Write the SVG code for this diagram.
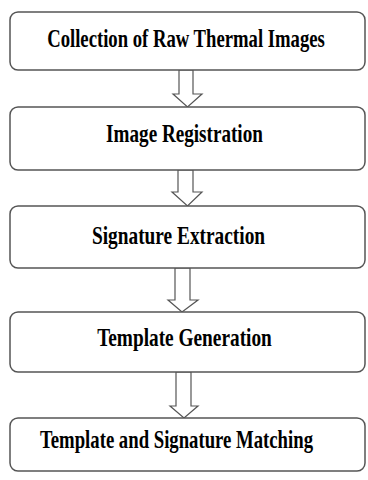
<svg xmlns="http://www.w3.org/2000/svg" width="368" height="480" viewBox="0 0 368 480">
<style>
.box{fill:#fff;stroke:#555;stroke-width:1.5}
.lbl{font-family:"Liberation Serif","Times New Roman",serif;font-weight:bold;font-size:26px;fill:#000;text-anchor:middle}
.arr{fill:#fff;stroke:#555;stroke-width:1.2;stroke-linejoin:miter}
</style>
<rect width="368" height="480" fill="#fff"/>
<g id="connectors">
<polygon class="arr" points="179,70 193,70 193,94 202,94 187.5,107 173,94 179,94"/>
<polygon class="arr" points="178,170 193,170 193,192 202,192 187.5,206 172,192 178,192"/>
<polygon class="arr" points="175,268 190,268 190,300 198,300 182,312 168,300 175,300"/>
<polygon class="arr" points="176,372 191,372 191,406 198,406 184,418 170,406 176,406"/>
</g>
<g id="node1">
<rect class="box" x="10" y="12" width="355" height="58" rx="8"/>
<text class="lbl" transform="translate(186,47) scale(0.78,1)" textLength="356" lengthAdjust="spacingAndGlyphs">Collection of Raw Thermal Images</text>
</g>
<g id="node2">
<rect class="box" x="10" y="107" width="355" height="63" rx="8"/>
<text class="lbl" transform="translate(184.5,142) scale(0.78,1)" textLength="201" lengthAdjust="spacingAndGlyphs">Image Registration</text>
</g>
<g id="node3">
<rect class="box" x="10" y="206" width="355" height="62" rx="8"/>
<text class="lbl" transform="translate(178.5,244) scale(0.78,1)" textLength="222" lengthAdjust="spacingAndGlyphs">Signature Extraction</text>
</g>
<g id="node4">
<rect class="box" x="10" y="312" width="355" height="60" rx="8"/>
<text class="lbl" transform="translate(184.5,346) scale(0.78,1)" textLength="224" lengthAdjust="spacingAndGlyphs">Template Generation</text>
</g>
<g id="node5">
<rect class="box" x="10" y="418" width="355" height="53" rx="8"/>
<text class="lbl" transform="translate(176.5,448) scale(0.78,1)" textLength="350" lengthAdjust="spacingAndGlyphs">Template and Signature Matching</text>
</g>
</svg>
